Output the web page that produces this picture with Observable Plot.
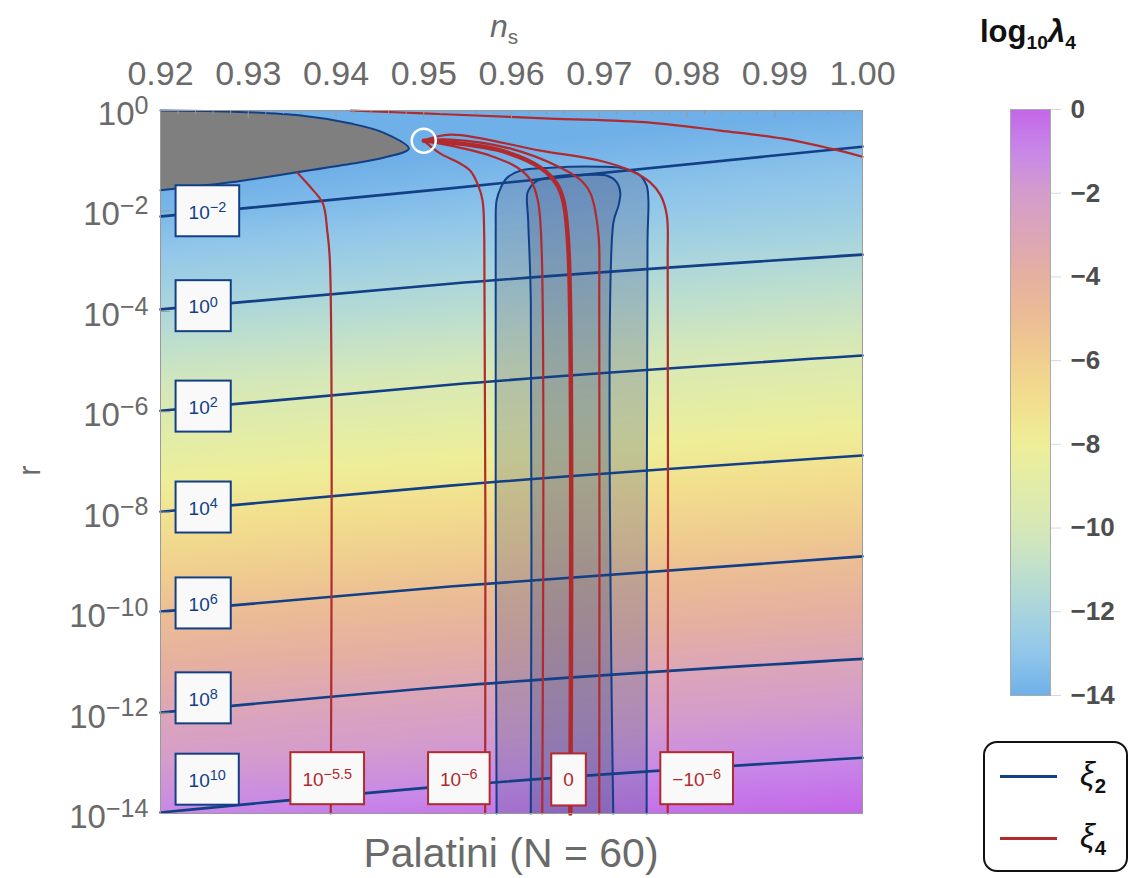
<!DOCTYPE html>
<html><head><meta charset="utf-8">
<script src="https://cdn.jsdelivr.net/npm/d3@7"></script>
<script src="https://cdn.jsdelivr.net/npm/@observablehq/plot@0.6"></script>
<style>
body{margin:0;background:#fff;font-family:"Liberation Sans",Arial,sans-serif;}
#wrap{position:relative;width:1132px;height:878px;overflow:hidden;background:#fff;}
#wrap > svg{position:absolute;top:0;}
.ttl{position:absolute;color:#6a6a6a;white-space:nowrap;line-height:1;}
#legend{position:absolute;left:983px;top:741px;width:141px;height:127px;border:2px solid #111;border-radius:14px;background:#fff;}
#legend .sw{position:absolute;left:15px;width:57px;height:3px;}
#legend .lb{position:absolute;left:95px;font-size:33px;font-style:italic;color:#111;line-height:1;}
#legend .lb sub{font-style:normal;font-weight:bold;font-size:62%;}
</style></head><body><div id="wrap"></div>
<script>
// ---------- data ----------
// colour scale of log10 λ4
const colorStops = [-14,-13,-12,-11,-10,-9,-8,-7,-6,-5,-4,-3,-2,-1,0];
const colorRange = ["#70b0e8","#90c6ea","#a8d4de","#c0e0cc","#d6e8b8","#e2eca8","#eeee98","#f2df8e","#f0cf8e","#ebbd95","#e6b0a0","#dca6b8","#d49ccc","#c888e8","#c466e8"];
const cbTicks = [0,-2,-4,-6,-8,-10,-12,-14];

// background field log10 λ4 sampled on a coarse grid
const nsGrid = [0.92, 0.96, 1.00];
const log10rGrid = [0,-2,-4,-6,-8,-10,-12,-14];
const lam4AtNs092 = [-15.0,-13.7,-11.8,-9.6,-7.3,-5.1,-3.0,-1.0];
const lam4AtNs096 = [-14.5,-13.1,-11.2,-9.0,-6.7,-4.5,-2.4,-0.5];
const lam4AtNs100 = [-14.0,-12.5,-10.6,-8.4,-6.1,-3.9,-1.8,0.0];

// axes
const xMajor = [0.92,0.93,0.94,0.95,0.96,0.97,0.98,0.99,1.00];
const xMinor = [0.922,0.924,0.926,0.928,0.932,0.934,0.936,0.938,0.942,0.944,0.946,0.948,0.952,0.954,0.956,0.958,0.962,0.964,0.966,0.968,0.972,0.974,0.976,0.978,0.982,0.984,0.986,0.988,0.992,0.994,0.996,0.998];
const yMajor = [0,-2,-4,-6,-8,-10,-12,-14];

// ξ2 contours (blue): log10 r at ns = 0.92, 0.953, 1.00
const xi2Ns = [0.92, 0.953, 1.00];
const xi2Levels = ["10^−2","10^0","10^2","10^4","10^6","10^8","10^10"];
const xi2LogR = [
  [-2.11,-1.55,-0.72],
  [-3.96,-3.45,-2.87],
  [-5.98,-5.46,-4.88],
  [-7.99,-7.47,-6.87],
  [-9.98,-9.48,-8.88],
  [-11.99,-11.47,-10.92],
  [-13.98,-13.45,-12.89]
];
const xi2LabelNs = 0.9232;
const xi2LabelLogR = [-2.03,-3.92,-5.92,-7.93,-9.84,-11.73,-13.35];

// grey excluded region (bounded by ξ2 contours)
const greyNs = [0.92,0.9276,0.9360,0.9417,0.9454,0.9483,0.9454,0.9417,0.9352,0.9280,0.92];
const greyLogR = [0,-0.02,-0.10,-0.26,-0.44,-0.76,-0.94,-1.06,-1.24,-1.43,-1.59];

// shaded bands (ξ2 contours)
const bandOuterNs = [0.9583,0.9582,0.9583,0.9588,0.9595,0.9610,0.9644,0.9701,0.9730,0.9747,0.9754,0.9756,0.9755,0.9754];
const bandOuterLogR = [-14,-2.39,-1.79,-1.53,-1.34,-1.20,-1.14,-1.12,-1.16,-1.30,-1.49,-1.79,-2.59,-14];
const bandInnerNs = [0.9622,0.9622,0.9619,0.9618,0.9623,0.9630,0.9656,0.9690,0.9709,0.9720,0.9724,0.9722,0.9716,0.9716];
const bandInnerLogR = [-14,-3.79,-2.19,-1.65,-1.49,-1.39,-1.30,-1.28,-1.30,-1.43,-1.65,-1.89,-2.25,-14];

// ξ4 contours (red)
const xi4A_Ns = [0.9356,0.9371,0.9385,0.9390,0.9393,0.9394];          // 10^-5.5
const xi4A_LogR = [-1.24,-1.53,-1.85,-2.39,-2.99,-14];
const xi4B_Ns = [0.9500,0.9519,0.9540,0.9553,0.9562,0.9567,0.9569,0.9570]; // 10^-6
const xi4B_LogR = [-0.60,-0.86,-1.04,-1.20,-1.49,-1.79,-2.59,-14];
const xi4C_Ns = [0.9500,0.9531,0.9576,0.9607,0.9622,0.9630,0.9634,0.9635];
const xi4C_LogR = [-0.60,-0.70,-0.90,-1.14,-1.39,-1.79,-2.59,-14];
const xi4D_Ns = [0.9500,0.9531,0.9588,0.9633,0.9651,0.9659,0.9665,0.9667]; // 0
const xi4D_LogR = [-0.60,-0.64,-0.80,-1.14,-1.45,-1.79,-2.79,-14];
const xi4E_Ns = [0.9500,0.9531,0.9599,0.9656,0.9679,0.9690,0.9699,0.9700,0.9700];
const xi4E_LogR = [-0.60,-0.58,-0.76,-1.14,-1.39,-1.65,-2.45,-3.79,-14];
const xi4F_Ns = [0.9500,0.9531,0.9633,0.9701,0.9736,0.9758,0.9770,0.9777,0.9778,0.9778]; // -10^-6
const xi4F_LogR = [-0.60,-0.48,-0.80,-1.00,-1.20,-1.43,-1.69,-2.09,-2.99,-14];
const xi4G_Ns = [0.9417,0.9474,0.9531,0.9644,0.9758,0.9838,0.9910,0.9964,1.00];
const xi4G_LogR = [0,-0.04,-0.08,-0.16,-0.24,-0.40,-0.56,-0.76,-0.92];
const xi4Labels = ["10^−5.5","10^−6","0","−10^−6"];
const xi4LabelNs = [0.9390,0.9540,0.9665,0.9811];
const xi4LabelLogR = -13.33;

// special point
const pointNs = 0.95, pointLogR = -0.60;

// ---------- build tables ----------
const heat = [];
const cols = [lam4AtNs092, lam4AtNs096, lam4AtNs100];
nsGrid.forEach((ns,i)=>log10rGrid.forEach((lr,j)=>heat.push({ns, lr, v: cols[i][j]})));
const zip = (a,b,extra={}) => a.map((x,i)=>({ns:x, lr:b[i], ...extra}));
const xi2Lines = xi2LogR.flatMap((row,k)=>zip(xi2Ns,row,{id:k}));
const xi2Lab = xi2Levels.map((t,k)=>({ns:xi2LabelNs, lr:xi2LabelLogR[k], t}));
const grey = zip(greyNs, greyLogR);
const bandOuter = zip(bandOuterNs, bandOuterLogR);
const bandInner = zip(bandInnerNs, bandInnerLogR);
const xi4Thin = [
  ...zip(xi4A_Ns,xi4A_LogR,{id:"A"}),
  ...zip(xi4B_Ns,xi4B_LogR,{id:"B"}),
  ...zip(xi4C_Ns,xi4C_LogR,{id:"C"}),
  ...zip(xi4E_Ns,xi4E_LogR,{id:"E"}),
  ...zip(xi4F_Ns,xi4F_LogR,{id:"F"}),
  ...zip(xi4G_Ns,xi4G_LogR,{id:"G"})
];
const xi4Thick = zip(xi4D_Ns, xi4D_LogR);
const xi4Lab = xi4Labels.map((t,k)=>({ns:xi4LabelNs[k], lr:xi4LabelLogR, t}));

const BLUE = "#123f86", RED = "#b02a2e";
const FONT = "Liberation Sans, Arial, sans-serif";
const colorCfg = {type:"linear", domain: colorStops, range: colorRange, clamp:true};
const innerW = 1132-160-270, innerH = 878-110-65;

const main = Plot.plot({
  width:1132, height:878, marginLeft:160, marginRight:270, marginTop:110, marginBottom:65,
  style:{fontFamily:FONT, background:"transparent"},
  x:{domain:[0.92,1.00]},
  y:{domain:[-14,0]},
  color: colorCfg,
  marks:[
    Plot.raster(heat,{x:"ns", y:"lr", fill:"v", interpolate:"barycentric"}),
    Plot.line(bandOuter,{x:"ns", y:"lr", fill:"#4a5a88", fillOpacity:0.27, stroke:"none", curve:"catmull-rom"}),
    Plot.line(bandInner,{x:"ns", y:"lr", fill:"#4a5a88", fillOpacity:0.27, stroke:"none", curve:"catmull-rom"}),
    Plot.line(grey,{x:"ns", y:"lr", fill:"#7f7f7f", stroke:"none", curve:"catmull-rom"}),
    Plot.line(grey,{x:"ns", y:"lr", stroke:BLUE, strokeWidth:2, curve:"catmull-rom"}),
    Plot.line(xi2Lines,{x:"ns", y:"lr", z:"id", stroke:BLUE, strokeWidth:2.6, curve:"monotone-x"}),
    Plot.line(bandOuter,{x:"ns", y:"lr", stroke:BLUE, strokeWidth:2, curve:"catmull-rom"}),
    Plot.line(bandInner,{x:"ns", y:"lr", stroke:BLUE, strokeWidth:2, curve:"catmull-rom"}),
    Plot.line(xi4Thin,{x:"ns", y:"lr", z:"id", stroke:RED, strokeWidth:2.2, curve:"catmull-rom"}),
    Plot.line(xi4Thick,{x:"ns", y:"lr", stroke:RED, strokeWidth:4.5, curve:"catmull-rom"}),
    Plot.dot([{ns:pointNs, lr:pointLogR}],{x:"ns", y:"lr", r:12, stroke:"white", strokeWidth:2.5, fill:"none"}),
    Plot.frame({stroke:"#999", strokeWidth:1}),
    Plot.tickX(xMinor,{x:d=>d, stroke:"#999", insetBottom: innerH-4}),
    Plot.tickX(xMajor,{x:d=>d, stroke:"#999", insetBottom: innerH-8}),
    Plot.tickY(yMajor,{y:d=>d, stroke:"#999", insetRight: innerW-10}),
    Plot.axisX({anchor:"top", ticks:xMajor, tickSize:0, tickPadding:26, tickFormat:d=>d.toFixed(2), fontSize:34, fill:"#6a6a6a", label:null}),
    Plot.axisY({anchor:"left", ticks:yMajor, tickSize:0, tickPadding:12, dy:4, tickFormat:d=>"10^"+(d===0?"0":"−"+(-d)), fontSize:33, fill:"#6a6a6a", label:null}),
    Plot.text(xi2Lab,{x:"ns", y:"lr", text:"t", textAnchor:"start", fontSize:19, fill:BLUE}),
    Plot.text(xi4Lab,{x:"ns", y:"lr", text:"t", fontSize:19, fill:RED})
  ]
});

const cb = Plot.plot({
  width:172, height:878, marginLeft:50, marginRight:82, marginTop:109, marginBottom:183,
  style:{fontFamily:FONT, background:"transparent"},
  x:{domain:[0,1], axis:null},
  y:{domain:[-14,0], axis:null},
  color: colorCfg,
  marks:[
    Plot.raster({fill:(x,y)=>y, x1:0, x2:1, y1:-14, y2:0}),
    Plot.frame({stroke:"#aaa"}),
    Plot.axisY({anchor:"right", ticks:cbTicks, tickSize:10, tickPadding:10, tickFormat:d=>d===0?"0":"−"+(-d), fontSize:26, fontWeight:"bold", fill:"#4e4e4e", stroke:"#d8d8d8", label:null})
  ]
});

const wrap = document.getElementById("wrap");
main.style.left = "0px";
cb.style.left = "960px";
wrap.appendChild(main);
wrap.appendChild(cb);

// superscripts
const SVGNS = "http://www.w3.org/2000/svg";
main.querySelectorAll("text").forEach(t=>{
  const s = t.textContent; const i = s.indexOf("^");
  if (i < 0) return;
  t.textContent = s.slice(0,i);
  const ts = document.createElementNS(SVGNS,"tspan");
  ts.setAttribute("dy","-0.45em"); ts.setAttribute("font-size","76%");
  ts.textContent = s.slice(i+1);
  t.appendChild(ts);
});
// label boxes
main.querySelectorAll('g[aria-label="text"]').forEach(g=>{
  const col = g.getAttribute("fill") || BLUE;
  const isRed = col.toLowerCase() === RED;
  const padX = isRed ? 12 : 13, h = isRed ? 52 : 51;
  [...g.querySelectorAll("text")].forEach(t=>{
    const bb = t.getBBox();
    const r = document.createElementNS(SVGNS,"rect");
    r.setAttribute("x", bb.x - padX);
    r.setAttribute("y", bb.y + bb.height/2 - h/2);
    r.setAttribute("width", bb.width + 2*padX);
    r.setAttribute("height", h);
    r.setAttribute("fill", "#f9f9f9");
    r.setAttribute("stroke", col);
    r.setAttribute("stroke-width", 2);
    const tr = t.getAttribute("transform");
    if (tr) r.setAttribute("transform", tr);
    g.insertBefore(r, t);
  });
});

// titles and legend (HTML text)
function addDiv(html, css, cls="ttl"){ const d=document.createElement("div"); d.className=cls; d.innerHTML=html; Object.assign(d.style,css); wrap.appendChild(d); return d; }
addDiv('<i>n</i><sub style="font-size:65%">s</sub>', {left:"490px", top:"10px", fontSize:"32px"});
addDiv('r', {left:"24px", top:"455px", fontSize:"31px", transform:"rotate(-90deg)"});
addDiv('Palatini (N = 60)', {left:"0px", width:"1022px", textAlign:"center", top:"833px", fontSize:"41px"});
addDiv('<b>log<sub style="font-size:62%">10</sub><i>λ</i><sub style="font-size:62%">4</sub></b>', {left:"980px", top:"16px", fontSize:"31px", color:"#111"});
const lg = addDiv('<div class="sw" style="top:32px;background:'+BLUE+'"></div><div class="lb" style="top:14px">ξ<sub>2</sub></div>'+
  '<div class="sw" style="top:94px;background:'+RED+'"></div><div class="lb" style="top:76px">ξ<sub>4</sub></div>', {}, "");
lg.id = "legend";
</script>
</body></html>
